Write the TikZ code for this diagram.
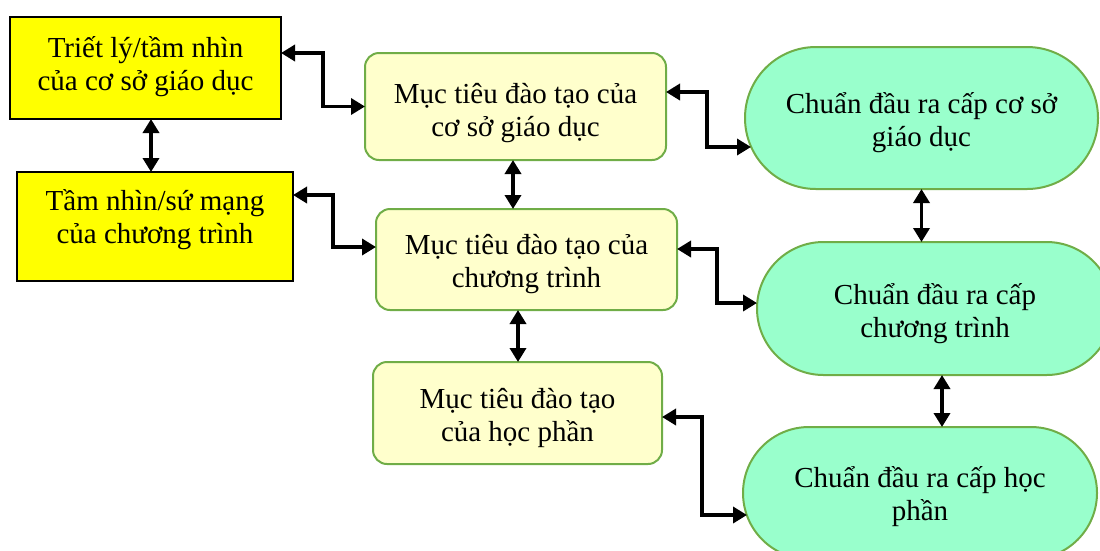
\documentclass[tikz,border=0pt]{standalone}
\usepackage{fontspec}
\setmainfont{Liberation Serif}
\usetikzlibrary{arrows.meta,calc}
\definecolor{visionfill}{HTML}{FFFF00}
\definecolor{goalfill}{HTML}{FFFFCC}
\definecolor{outfill}{HTML}{99FFCC}
\definecolor{leafedge}{HTML}{70AD47}
\begin{document}
\begin{tikzpicture}[x=1pt,y=-1pt,
  every node/.style={inner sep=0pt,outer sep=0pt},
  boxtext/.style={align=center,font=\fontsize{29}{33}\selectfont},
  visionbox/.style={draw=black,line width=1.3pt,fill=visionfill},
  goalbox/.style={draw=leafedge,line width=2pt,fill=goalfill,rounded corners=14pt},
  outbox/.style={draw=leafedge,line width=2pt,fill=outfill},
  link/.style={line width=3.8pt,{Triangle[length=14pt,width=16pt]}-{Triangle[length=14pt,width=16pt]}}
]
\useasboundingbox (0,0) rectangle (1100,550);
\clip (0,0) rectangle (1100,550);

% vision boxes (left column)
\node[visionbox,minimum width=271pt,minimum height=102pt] (y1) at (145.5,68) {};
\node[visionbox,minimum width=276pt,minimum height=109pt] (y2) at (155,226.5) {};
\node[boxtext] (y1t) at (145.5,66.5) {Triết lý/tầm nhìn\\của cơ sở giáo dục};
\node[boxtext] (y2t) at (155,220) {Tầm nhìn/sứ mạng\\của chương trình};

% training objectives (middle column)
\node[goalbox,minimum width=301pt,minimum height=107pt] (a) at (515.5,106.5) {};
\node[goalbox,minimum width=301pt,minimum height=101pt] (b) at (526.5,259.5) {};
\node[goalbox,minimum width=289pt,minimum height=102pt] (c) at (517.5,413) {};
\node[boxtext] (at) at (515.5,113) {Mục tiêu đào tạo của\\cơ sở giáo dục};
\node[boxtext] (bt) at (526.5,264) {Mục tiêu đào tạo của\\chương trình};
\node[boxtext] (ct) at (517.5,418) {Mục tiêu đào tạo\\của học phần};

% learning outcomes (right column)
\node[outbox,rounded corners=71pt,minimum width=353pt,minimum height=142pt] (g1) at (921.5,118) {};
\node[outbox,rounded corners=66.5pt,minimum width=356pt,minimum height=133pt] (g2) at (935,308.5) {};
\node[outbox,rounded corners=66pt,minimum width=354pt,minimum height=132pt] (g3) at (920,493) {};
\node[boxtext] (g1t) at (921.5,123) {Chuẩn đầu ra cấp cơ sở\\giáo dục};
\node[boxtext] (g2t) at (935,314) {Chuẩn đầu ra cấp\\chương trình};
\node[boxtext] (g3t) at (920,497) {Chuẩn đầu ra cấp học\\phần};

% vertical links
\draw[link] ([xshift=5.5pt]y1.south) -- ([xshift=5.5pt]y1.south |- y2.north);
\draw[link] ([xshift=-2.5pt]a.south) -- ([xshift=-2.5pt]a.south |- b.north);
\draw[link] ([xshift=-8.5pt]b.south) -- ([xshift=-8.5pt]b.south |- c.north);
\draw[link] (g1.south) -- (g1.south |- g2.north);
\draw[link] ([xshift=7pt]g2.south) -- ([xshift=7pt]g2.south |- g3.north);

% elbow links
\draw[link] ([yshift=15pt]y1.east) -- ++(42,0) |- (a.west);
\draw[link] ([yshift=31.5pt]y2.east) -- ++(40,0) |- ([yshift=12.5pt]b.west);
\draw[link] ([yshift=14.5pt]a.east) -- ++(41,0) |- ([yshift=-29pt,xshift=6pt]g1.west);
\draw[link] ([yshift=10.5pt]b.east) -- ++(40,0) |- ([yshift=5.5pt]g2.west);
\draw[link] ([yshift=-4pt]c.east) -- ++(40,0) |- ([yshift=-22pt,xshift=4pt]g3.west);
\end{tikzpicture}
\end{document}
